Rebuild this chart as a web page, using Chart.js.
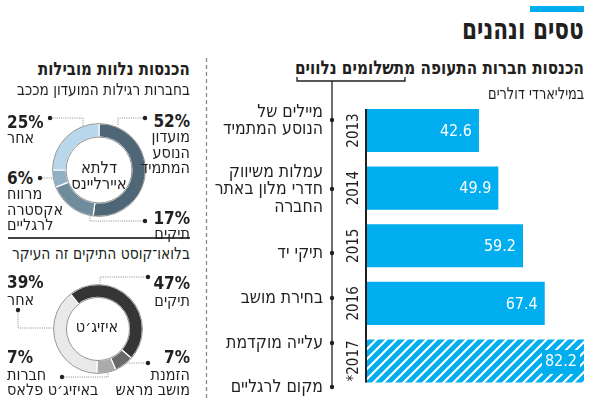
<!DOCTYPE html>
<html lang="he">
<head>
<meta charset="utf-8">
<script src="https://cdn.jsdelivr.net/npm/chart.js@4.4.0/dist/chart.umd.min.js"></script>
<style>
  body { margin: 0; width: 590px; height: 399px; overflow: hidden; background: #fff; position: relative;
         font-family: "DejaVu Sans Condensed", "DejaVu Sans", sans-serif; color: #231f20; }
  .t { position: absolute; white-space: nowrap; direction: rtl; }
  canvas { position: absolute; }
  svg { position: absolute; left: 0; top: 0; }
</style>
</head>
<body>
<svg id="deco" width="590" height="399"></svg>
<canvas id="bars" dir="ltr" width="260" height="300" style="left:330px;top:96px"></canvas>
<canvas id="delta" dir="ltr" width="94" height="94" style="left:52px;top:123px"></canvas>
<canvas id="easyjet" dir="ltr" width="90" height="90" style="left:53px;top:284px"></canvas>
<script>
const FONT = '"DejaVu Sans Condensed", "DejaVu Sans", sans-serif';

// bar chart: ancillary revenue, billions of dollars
const years = ['2013', '2014', '2015', '2016', '*2017'];
const revenue = [42.6, 49.9, 59.2, 67.4, 82.2];
const estimated = [false, false, false, false, true];

// ancillary services listed on the timeline
const services = [
  ['מיילים של', 'הנוסע המתמיד'],
  ['עמלות משיווק', 'חדרי מלון באתר', 'החברה'],
  ['תיקי יד'],
  ['בחירת מושב'],
  ['עלייה מוקדמת'],
  ['מקום לרגליים']
];

// donuts
const deltaLabels = [['מועדון', 'הנוסע', 'המתמיד'], ['תיקים'], ['מרווח', 'אקסטרה', 'לרגליים'], ['אחר']];
const deltaShares = [52, 17, 6, 25];
const deltaColors = ['#4e6675', '#6f8c9d', '#90b0c3', '#b8d7ea'];
const easyLabels = [['תיקים'], ['הזמנת', 'מושב מראש'], ['חברות', 'באיזיג׳ט פלאס'], ['אחר']];
const easyShares = [47, 7, 7, 39];
const easyColors = ['#353535', '#6a6a6a', '#ababab', '#e9e9e9'];

// ---------- text helpers ----------
function put(lines, x, y, o = {}) {
  const size = o.size || 15, lh = o.lh || 16;
  const d = document.createElement('div');
  d.className = 't';
  d.style.fontSize = size + 'px';
  d.style.lineHeight = lh + 'px';
  if (o.bold) d.style.fontWeight = 'bold';
  if (o.ltr) d.style.direction = 'ltr';
  d.style.top = (y - lh / 2) + 'px';
  if (o.align === 'left') { d.style.left = x + 'px'; d.style.textAlign = 'left'; }
  else if (o.align === 'center') { d.style.left = (x - 60) + 'px'; d.style.width = '120px'; d.style.textAlign = 'center'; }
  else { d.style.right = (590 - x) + 'px'; d.style.textAlign = 'right'; }
  d.innerHTML = [].concat(lines).join('<br>');
  document.body.appendChild(d);
  // squeeze to the width the text takes in the printed graphic
  if (o.w) {
    d.style.transformOrigin = 'right center';
    d.style.transform = 'scaleX(' + (o.w / d.offsetWidth) + ')';
  }
}

// headings
put('טסים ונהנים', 584, 29, { size: 30, lh: 32, bold: true, w: 122 });
put('הכנסות חברות התעופה מתשלומים נלווים', 584, 67, { size: 19, lh: 22, bold: true, w: 289 });
put('במיליארדי דולרים', 584, 94, { size: 16.5, w: 96 });
put('הכנסות נלוות מובילות', 190, 69, { size: 18.5, lh: 22, bold: true, w: 152 });
put('בחברות רגילות המועדון מככב', 190, 90, { size: 16.5, w: 173 });
put('בלואו־קוסט התיקים זה העיקר', 190, 254, { size: 16.5, w: 178 });

// timeline labels
const serviceRows = [120, 189, 253, 298, 343, 387];
services.forEach((s, i) => {
  const lh = 17.5;
  put(s, 323, serviceRows[i] - (s.length - 1) * lh / 2, { size: 17.5, lh: lh });
});

// donut labels: [percent x, percent y, align]
const pctStyle = { size: 17, lh: 18, bold: true, ltr: true };
const deltaPos = [[190, 121, 'right'], [190, 218, 'right'], [7, 178, 'left'], [7, 122, 'left']];
deltaShares.forEach((v, i) => {
  const [x, y, a] = deltaPos[i];
  put(v + '%', x, y, Object.assign({ align: a }, pctStyle));
  put(deltaLabels[i], x, y + 16, { size: 16, lh: 15.2, align: a });
});
const easyPos = [[190, 283, 'right'], [190, 357, 'right'], [7, 357, 'left'], [7, 282, 'left']];
easyShares.forEach((v, i) => {
  const [x, y, a] = easyPos[i];
  put(v + '%', x, y, Object.assign({ align: a }, pctStyle));
  put(easyLabels[i], x, y + 17.5, { size: 16, lh: 15.5, align: a });
});
put(['דלתא', 'איירליינס'], 99, 168, { size: 16.5, lh: 16, align: 'center' });
put('איזיג׳ט', 97, 327, { size: 16, lh: 16, align: 'center' });

// ---------- static decoration ----------
const dot = (x, y) => `<circle cx="${x}" cy="${y}" r="2.2" fill="#231f20"/>`;
const lead = pts => `<polyline points="${pts.map(p => p.join(',')).join(' ')}" fill="none" stroke="#8a8a8a" stroke-width="1" stroke-dasharray="1 1.2"/>`;
let svg = '';
svg += '<rect x="530" y="6" width="54" height="6" fill="#00aeef"/>';
svg += '<polyline points="297,77 297,81 405,81 405,77" fill="none" stroke="#231f20" stroke-width="1.3"/>';
svg += '<line x1="332" y1="81" x2="332" y2="387" stroke="#231f20" stroke-width="1.3"/>';
serviceRows.forEach(y => { svg += dot(332, y); });
svg += '<line x1="206.5" y1="58" x2="206.5" y2="399" stroke="#8a8a8a" stroke-width="1.3" stroke-dasharray="4 3"/>';
svg += '<line x1="8" y1="238" x2="190" y2="238" stroke="#444" stroke-width="2"/>';
svg += lead([[145, 118], [118, 118], [118, 126]]) + dot(145, 118);
svg += lead([[50, 118], [83, 118], [83, 128]]) + dot(50, 118);
svg += lead([[40, 178], [54, 178]]) + dot(40, 178);
svg += lead([[145, 221], [90, 221], [90, 214]]) + dot(145, 221);
svg += lead([[148, 277], [100, 277], [100, 286]]) + dot(148, 277);
svg += lead([[148, 363], [124, 363]]) + dot(148, 363);
svg += lead([[18, 310], [18, 328], [56, 328]]) + dot(18, 310);
svg += lead([[62, 377], [108, 377], [108, 371]]) + dot(62, 377);
document.getElementById('deco').innerHTML = svg;

// ---------- bar chart ----------
function makeHatch() {
  const p = document.createElement('canvas');
  p.width = 10; p.height = 10;
  const c = p.getContext('2d');
  c.fillStyle = '#00aeef';
  c.fillRect(0, 0, 10, 10);
  c.strokeStyle = '#fff';
  c.lineWidth = 2.2;
  c.beginPath();
  c.moveTo(-1, 11); c.lineTo(11, -1);
  c.moveTo(-1, 1); c.lineTo(1, -1);
  c.moveTo(9, 11); c.lineTo(11, 9);
  c.stroke();
  return c.createPattern(p, 'repeat');
}

const measure = document.createElement('canvas').getContext('2d');
measure.font = '15px ' + FONT;
const widest = Math.max(...years.map(y => measure.measureText(y).width));

const barValues = {
  id: 'barValues',
  afterDatasetsDraw(chart) {
    const ctx = chart.ctx, area = chart.chartArea;
    const bars = chart.getDatasetMeta(0).data;
    ctx.save();
    ctx.strokeStyle = '#231f20';
    ctx.lineWidth = 2;
    ctx.beginPath();
    ctx.moveTo(area.left, bars[0].y - bars[0].height / 2);
    ctx.lineTo(area.left, bars[bars.length - 1].y + bars[bars.length - 1].height / 2);
    ctx.stroke();
    ctx.font = '16px ' + FONT;
    ctx.textAlign = 'right';
    ctx.textBaseline = 'middle';
    bars.forEach((bar, i) => {
      const label = revenue[i].toFixed(1);
      const tx = bar.x - 7, ty = bar.y + 1;
      if (estimated[i]) {
        const w = ctx.measureText(label).width;
        ctx.fillStyle = '#00aeef';
        ctx.fillRect(tx - w - 3, ty - 12, w + 6, 24);
      }
      ctx.fillStyle = '#fff';
      ctx.fillText(label, tx, ty);
    });
    ctx.restore();
  }
};

new Chart(document.getElementById('bars'), {
  type: 'bar',
  data: {
    labels: years,
    datasets: [{
      data: revenue,
      backgroundColor: estimated.map(e => e ? makeHatch() : '#00aeef'),
      borderWidth: 0,
      categoryPercentage: 1,
      barPercentage: 0.75
    }]
  },
  options: {
    indexAxis: 'y',
    responsive: false,
    animation: false,
    layout: { padding: { top: 5.7, bottom: 6.2, right: 6, left: 0 } },
    plugins: { legend: { display: false }, tooltip: { enabled: false } },
    scales: {
      x: { display: false, min: 0, max: 82.2 },
      y: {
        grid: { display: false, drawTicks: false },
        border: { display: false },
        ticks: {
          minRotation: 90, maxRotation: 90, crossAlign: 'center',
          padding: 12 - widest / 2,
          color: '#231f20',
          font: { family: FONT, size: 15 }
        },
        afterFit(scale) { scale.width = 36; }
      }
    }
  },
  plugins: [barValues]
});

// ---------- donuts ----------
const ringOutline = {
  id: 'ringOutline',
  afterDatasetsDraw(chart) {
    const arc = chart.getDatasetMeta(0).data[0];
    const ctx = chart.ctx;
    ctx.save();
    ctx.strokeStyle = '#777';
    ctx.lineWidth = 0.8;
    [arc.outerRadius, arc.innerRadius].forEach(r => {
      ctx.beginPath();
      ctx.arc(arc.x, arc.y, r, 0, Math.PI * 2);
      ctx.stroke();
    });
    ctx.restore();
  }
};

function donut(id, shares, colors, rotation) {
  new Chart(document.getElementById(id), {
    type: 'doughnut',
    data: { datasets: [{ data: shares, backgroundColor: colors, borderColor: '#fff', borderWidth: 1.2 }] },
    options: {
      responsive: false,
      animation: false,
      cutout: '71%',
      rotation: rotation,
      plugins: { legend: { display: false }, tooltip: { enabled: false } }
    },
    plugins: [ringOutline]
  });
}
donut('delta', deltaShares, deltaColors, 0);
donut('easyjet', easyShares, easyColors, -38);
</script>
</body>
</html>
